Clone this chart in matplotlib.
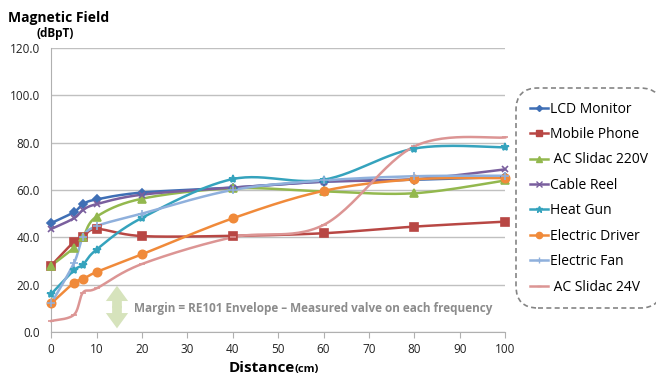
import numpy as np
import matplotlib
matplotlib.use('Agg')
import matplotlib.pyplot as plt
from matplotlib.patches import FancyArrowPatch

plt.rcParams['font.family'] = ['Open Sans', 'DejaVu Sans']

# Data
distance = [0, 5, 7, 10, 20, 40, 60, 80, 100]

lcd_monitor = [46, 50.6, 54, 56, 58.9, 61, 63.5, 64.3, 65.5]
mobile_phone = [28, 38, 40, 43.5, 40.5, 40.6, 41.7, 44.5, 46.6]
ac_slidac_220 = [28, 35.5, 40, 48.7, 56.3, 60.7, 59.4, 58.6, 64]
cable_reel = [43.5, 48, 51.5, 54, 58, 61, 63.5, 64.5, 68.7]
heat_gun = [16, 26, 28.4, 34.8, 48.2, 64.6, 64.3, 77.5, 78]
electric_driver = [12, 20.7, 22.3, 25.3, 32.8, 48, 59.6, 64.5, 65]
electric_fan = [12, 29, 40, 44.7, 50, 60, 64, 65.8, 66]
ac_slidac_24 = [4.6, 7.2, 16.6, 18.4, 28.7, 40, 45.2, 78.4, 82.2]

labels = ['LCD Monitor', 'Mobile Phone', ' AC Slidac 220V', 'Cable Reel',
          'Heat Gun', 'Electric Driver', 'Electric Fan', ' AC Slidac 24V']
series = [lcd_monitor, mobile_phone, ac_slidac_220, cable_reel,
          heat_gun, electric_driver, electric_fan, ac_slidac_24]
colors = ['#3f6fb5', '#b84744', '#93b84e', '#7a5f9e',
          '#35a3bd', '#f08a3a', '#8fb0dc', '#dc9594']
markers = ['D', 's', '^', 'x', '*', 'o', '+', '_']
msizes = [4, 5.5, 6, 5, 6, 6, 6, 4]


# Excel-like smoothed line (Catmull-Rom through the points)
def smooth(x, y, n=30):
    p = np.column_stack([x, y]).astype(float)
    p = np.vstack([p[0], p, p[-1]])
    out = []
    t = np.linspace(0, 1, n)[:, None]
    for i in range(1, len(p) - 2):
        p0, p1, p2, p3 = p[i - 1], p[i], p[i + 1], p[i + 2]
        seg = 0.5 * (2 * p1 + (-p0 + p2) * t + (2 * p0 - 5 * p1 + 4 * p2 - p3) * t ** 2
                     + (-p0 + 3 * p1 - 3 * p2 + p3) * t ** 3)
        out.append(seg)
    c = np.vstack(out)
    return c[:, 0], c[:, 1]


fig = plt.figure(figsize=(6.56, 3.78), dpi=100)
ax = fig.add_axes([0.078, 0.122, 0.692, 0.751])

handles = []
for vals, lab, col, mk, ms in zip(series, labels, colors, markers, msizes):
    sx, sy = smooth(distance, vals)
    ax.plot(sx, sy, color=col, lw=1.8, clip_on=False, zorder=3)
    ax.plot(distance, vals, ls='none', marker=mk, color=col, ms=ms, mew=1.2,
            clip_on=False, zorder=4)
    h, = ax.plot([], [], color=col, lw=1.8, marker=mk, ms=ms * 0.75, mew=1)
    handles.append(h)

ax.set_xlim(0, 100)
ax.set_ylim(0, 120)
ax.set_xticks(np.arange(0, 101, 10))
ax.set_yticks(np.arange(0, 121, 20))
ax.yaxis.set_major_formatter(matplotlib.ticker.FormatStrFormatter('%.1f'))
ax.tick_params(axis='y', length=0, labelsize=8.5, pad=8, colors='#222222')
ax.tick_params(axis='x', length=4, labelsize=8.5, pad=4, colors='#222222')
ax.tick_params(axis='x', color='#b0b0b0')
ax.grid(axis='y', color='#c0c0c0', lw=1)
ax.set_axisbelow(True)
for s in ['top', 'right']:
    ax.spines[s].set_visible(False)
for s in ['left', 'bottom']:
    ax.spines[s].set_color('#b0b0b0')

# margin annotation
arr_kw = dict(arrowstyle='simple,head_width=0.8,head_length=0.55,tail_width=0.35',
              mutation_scale=20, color='#d6e3bc', lw=0, zorder=2)
ax.add_patch(FancyArrowPatch((14.5, 10.0), (14.5, 19.5), shrinkA=0, shrinkB=0, **arr_kw))
ax.add_patch(FancyArrowPatch((14.5, 11.0), (14.5, 1.5), shrinkA=0, shrinkB=0, **arr_kw))
ax.text(18.2, 10, 'Margin = RE101 Envelope \u2013 Measured valve on each frequency',
        fontsize=8.5, color='#8c8c8c', fontweight='bold', va='center', ha='left')

# titles
fig.text(0.012, 0.952, 'Magnetic Field', fontsize=10, fontweight='bold', ha='left', va='center')
fig.text(0.056, 0.912, '(dBpT)', fontsize=8.5, fontweight='bold', ha='left', va='center')
fig.text(0.449, 0.027, 'Distance', fontsize=11, fontweight='bold', ha='right', va='center')
fig.text(0.449, 0.022, '(cm)', fontsize=8, fontweight='bold', ha='left', va='center')

leg = fig.legend(handles, labels, loc='center left', bbox_to_anchor=(0.78, 0.476),
                 fontsize=10, frameon=True, fancybox=True, handlelength=1.3,
                 handletextpad=0.15, labelspacing=0.75, borderpad=0.8)
fr = leg.get_frame()
fr.set_linestyle((0, (3, 2)))
fr.set_edgecolor('#666666')
fr.set_linewidth(1.2)
fr.set_boxstyle('round,pad=0.2,rounding_size=1.6')

fig.savefig('out.png', dpi=100)
